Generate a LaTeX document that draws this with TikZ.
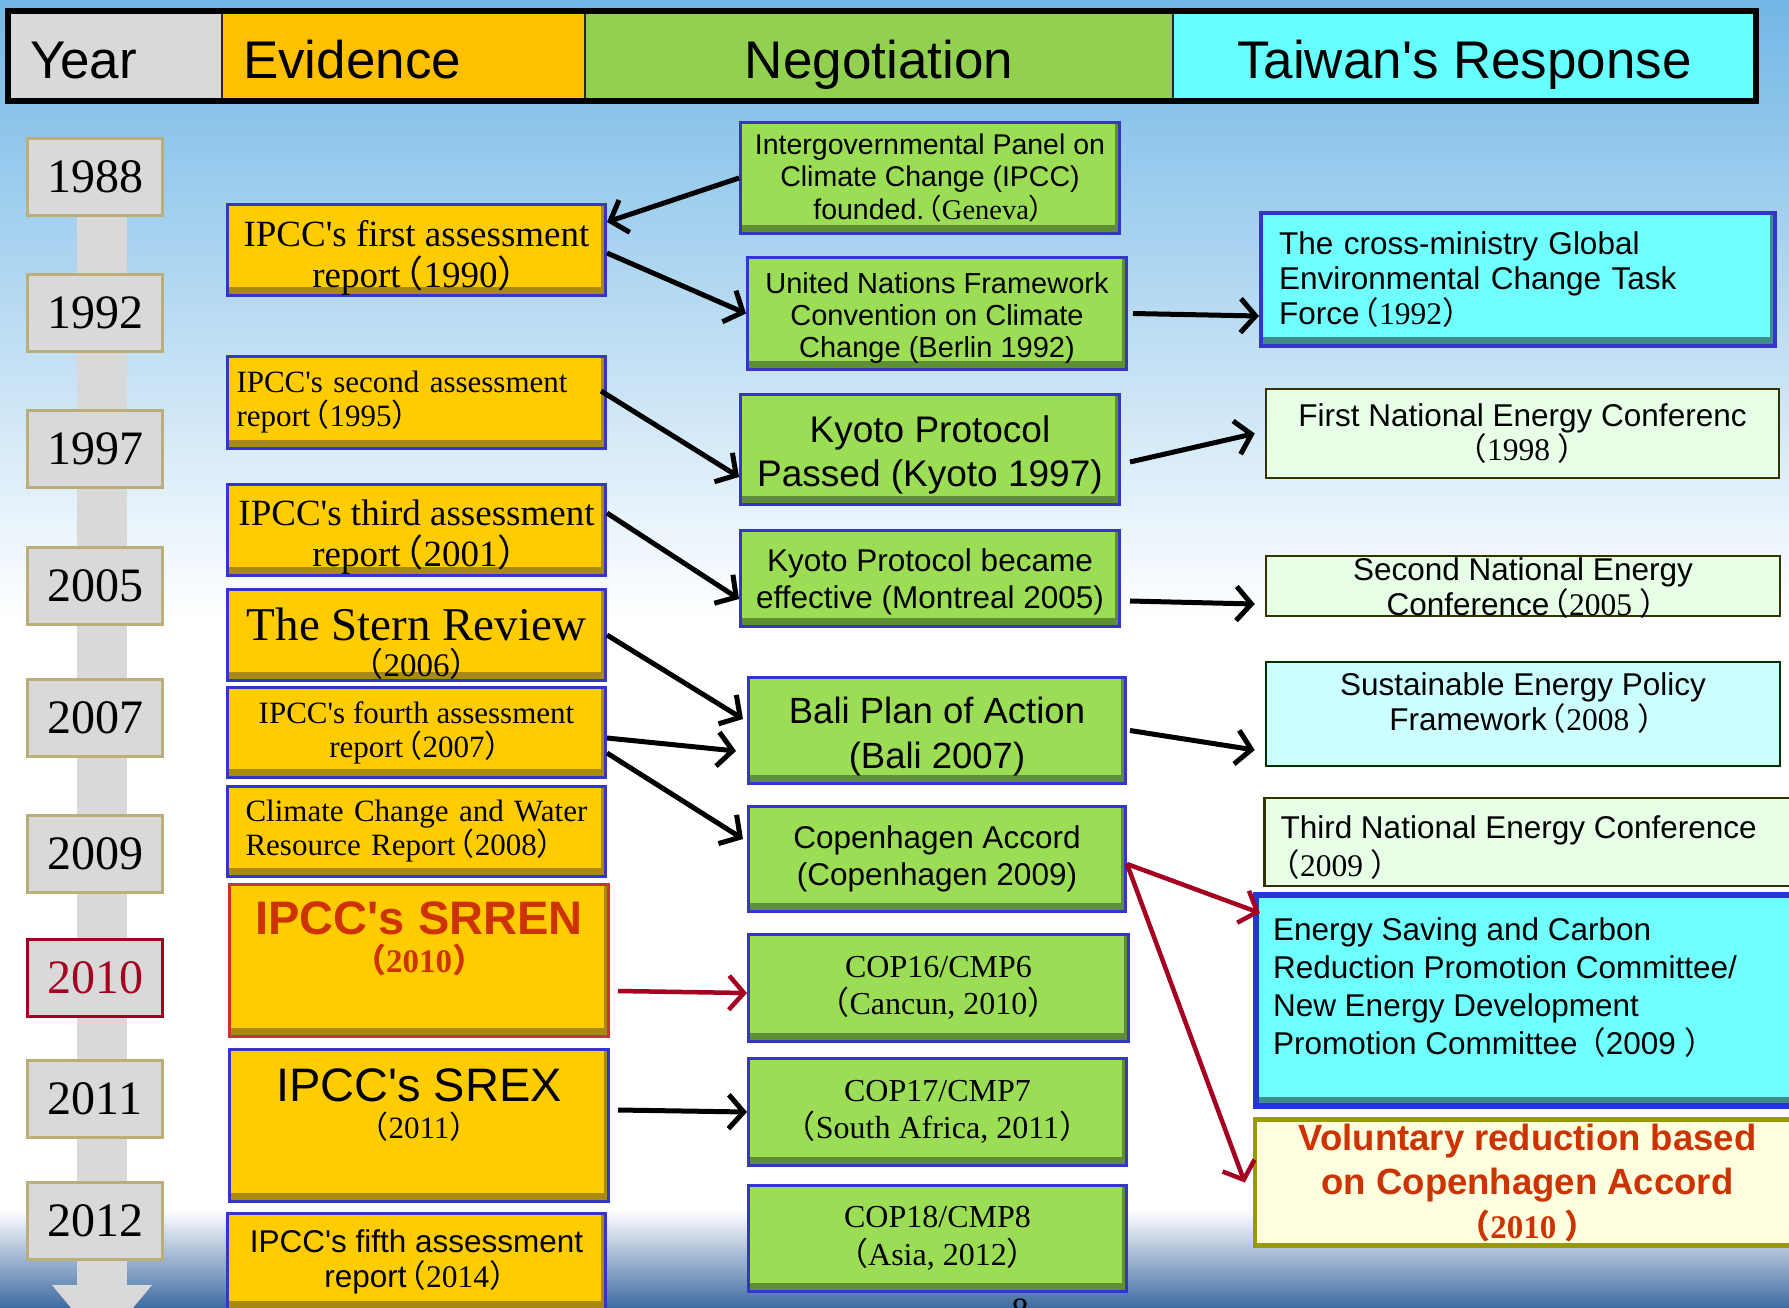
\documentclass[tikz,border=0pt]{standalone}
\usepackage{fontspec}
\setmainfont{Liberation Sans}
\newfontfamily\arl{Liberation Sans}
\newfontfamily\tnr{Liberation Serif}
\newfontfamily\cjk{Noto Sans CJK TC}
\usetikzlibrary{arrows.meta}

\definecolor{skyblue}{HTML}{72B7E6}
\definecolor{seamid}{HTML}{A9C1DD}
\definecolor{seablue}{HTML}{3F6DA3}
\definecolor{yeargray}{HTML}{D9D9D9}
\definecolor{yearline}{HTML}{BCAE78}
\definecolor{accred}{HTML}{A50021}
\definecolor{hdorange}{HTML}{FFC000}
\definecolor{hdgreen}{HTML}{92D050}
\definecolor{hdcyan}{HTML}{66FFFF}
\definecolor{evigold}{HTML}{FFCC00}
\definecolor{evidark}{HTML}{A88A10}
\definecolor{boxblue}{HTML}{3535C8}
\definecolor{deepblue}{HTML}{2238D0}
\definecolor{negreen}{HTML}{9BDD55}
\definecolor{nedark}{HTML}{5F8F35}
\definecolor{twcyan}{HTML}{70FFFF}
\definecolor{twdark}{HTML}{3F8C8C}
\definecolor{mint}{HTML}{E6FFE6}
\definecolor{darkolive}{HTML}{333300}
\definecolor{paleaqua}{HTML}{CCFFFF}
\definecolor{deepgreen}{HTML}{003300}
\definecolor{cream}{HTML}{FFFFE0}
\definecolor{mustard}{HTML}{999900}
\definecolor{rust}{HTML}{CC3300}
\definecolor{srrenred}{HTML}{CC3333}

% full-width brackets and a straight apostrophe
\newcommand{\fwl}{\makebox[0.62em][r]{\cjk （}}
\newcommand{\fwr}{\makebox[0.62em][l]{\cjk ）}}
\newcommand{\aps}{\textquotesingle}
% lines raised inside a box of fixed size
\newcommand{\stackc}[2]{\raisebox{#1}[0pt][0pt]{\vbox{\let\\\cr\halign{\hfil##\hfil\cr#2\crcr}}}}
\newcommand{\stackl}[3]{\makebox[#1][l]{\raisebox{#2}[0pt][0pt]{\vbox{\let\\\cr\halign{##\hfil\cr#3\crcr}}}}}

\tikzset{bevel/.style={path picture={
  \fill[#1] ([yshift=9pt]path picture bounding box.south west) rectangle (path picture bounding box.south east);
  \fill[#1] ([xshift=-5pt]path picture bounding box.north east) rectangle (path picture bounding box.south east);}}}
\tikzstyle{headcell} = [rectangle, minimum height=90pt, inner ysep=0pt, text height=44pt, text depth=0pt, font=\arl\fontsize{53}{58}\selectfont]
\tikzstyle{divider} = [line width=2pt, draw=black!85]
\tikzstyle{yearbox} = [rectangle, draw=yearline, line width=2.5pt, fill=yeargray, minimum width=135pt, minimum height=77pt, font=\tnr\fontsize{48}{50}\selectfont]
\tikzstyle{evidence} = [rectangle, draw=boxblue, line width=3pt, fill=evigold, bevel=evidark, align=center, inner xsep=4pt, font=\tnr\fontsize{37}{41}\selectfont]
\tikzstyle{negotiation} = [rectangle, draw=boxblue, line width=3pt, fill=negreen, bevel=nedark, align=center, font=\arl\fontsize{29}{32.5}\selectfont]
\tikzstyle{response} = [rectangle, draw=boxblue, line width=4pt, fill=twcyan, bevel=twdark, font=\arl\fontsize{31.5}{35}\selectfont]
\tikzstyle{conference} = [rectangle, draw=darkolive, line width=2.5pt, fill=mint, align=center, font=\arl\fontsize{31.5}{34}\selectfont]
\tikzstyle{policy} = [conference, draw=deepgreen, fill=paleaqua]
\tikzstyle{pledge} = [rectangle, draw=mustard, line width=4.5pt, fill=cream, align=center, text=rust, font=\arl\bfseries\fontsize{36.5}{44}\selectfont]
\tikzstyle{arrow} = [line width=5pt, -{Straight Barb[length=15pt,width=34pt]}]
\tikzstyle{redarrow} = [arrow, line width=4.5pt, draw=accred]

\begin{document}
\begin{tikzpicture}[x=1pt,y=-1pt]
\useasboundingbox (0,0) rectangle (1789,1307);
% backdrop
\shade[top color=skyblue, bottom color=white] (0,0) rectangle (1789,620);
\fill[white] (0,619) rectangle (1789,1211);
\shade[top color=white, middle color=seamid, bottom color=seablue] (0,1210) rectangle (1789,1307);

% header row
\node (hyear) [headcell, fill=yeargray, text width=170pt, inner xsep=22pt, align=left] at (115,56) {Year};
\node (hevid) [headcell, fill=hdorange, text width=321pt, inner xsep=21pt, align=left] at (403.5,56) {Evidence};
\node (hnego) [headcell, fill=hdgreen, minimum width=588pt] at (879,56) {Negotiation};
\node (htw) [headcell, fill=hdcyan, minimum width=583pt] at (1464.5,56) {Taiwan\aps s Response};
\draw [divider] (hyear.north east) -- (hyear.south east);
\draw [divider] (hevid.north east) -- (hevid.south east);
\draw [divider] (hnego.north east) -- (hnego.south east);
\draw [line width=6pt] (hyear.north west) rectangle (htw.south east);

% time line
\fill[yeargray] (77,150) rectangle (127,1286);
\fill[yeargray] (52,1285) -- (152,1285) -- (102,1345) -- cycle;
\node (y1988) [yearbox] at (95,177) {1988};
\node (y1992) [yearbox] at (95,313) {1992};
\node (y1997) [yearbox] at (95,449) {1997};
\node (y2005) [yearbox] at (95,586) {2005};
\node (y2007) [yearbox] at (95,718) {2007};
\node (y2009) [yearbox] at (95,854) {2009};
\node (y2010) [yearbox, draw=accred, text=accred] at (95,978) {2010};
\node (y2011) [yearbox] at (95,1099) {2011};
\node (y2012) [yearbox] at (95,1221) {2012};

% evidence
\node (e1) [evidence, minimum width=378pt, minimum height=91pt] at (416.5,250) {\stackc{-37pt}{IPCC\aps s first assessment\\report\fwl 1990\fwr}};
\node (e2) [evidence, align=left, text width=360pt, inner xsep=9pt, minimum height=92pt, font=\tnr\fontsize{31}{34}\selectfont] at (416.5,402.5) {IPCC\aps s second assessment\\report\fwl 1995\fwr};
\node (e3) [evidence, minimum width=378pt, minimum height=91pt] at (416.5,530) {\stackc{-36.5pt}{IPCC\aps s third assessment\\report\fwl 2001\fwr}};
\node (e4) [evidence, minimum width=378pt, minimum height=91pt, font=\tnr\fontsize{33}{36}\selectfont] at (416.5,635) {\stackc{-41pt}{{\fontsize{47}{36}\selectfont The Stern Review}\\\fwl 2006\fwr}};
\node (e5) [evidence, minimum width=378pt, minimum height=90pt, font=\tnr\fontsize{31}{34}\selectfont] at (416.5,732.5) {IPCC\aps s fourth assessment\\report\fwl 2007\fwr};
\node (e6) [evidence, align=left, text width=342pt, inner xsep=18pt, minimum height=90pt, font=\tnr\fontsize{31}{34}\selectfont] at (416.5,831.5) {Climate Change and Water\\Resource Report\fwl 2008\fwr};
\node (e7) [evidence, draw=srrenred, text=rust, minimum width=379pt, minimum height=152pt, font=\tnr\bfseries\fontsize{33}{38}\selectfont] at (419,960.5) {\stackc{-12pt}{{\arl\fontsize{47}{47}\selectfont IPCC\aps s SRREN}\\\fwl 2010\fwr}};
\node (e8) [evidence, minimum width=379pt, minimum height=152pt, font=\tnr\fontsize{31}{37}\selectfont] at (419,1125.5) {\stackc{-12.5pt}{{\arl\fontsize{47}{47}\selectfont IPCC\aps s SREX}\\\fwl 2011\fwr}};
\node (e9) [evidence, minimum width=378pt, minimum height=96pt, font=\arl\fontsize{31.5}{35}\selectfont] at (416.5,1261.5) {IPCC\aps s fifth assessment\\report\fwl{\tnr 2014}\fwr};

% negotiation
\node (n1) [negotiation, minimum width=379pt, minimum height=111pt, font=\arl\fontsize{28.5}{32.5}\selectfont] at (930,178) {Intergovernmental Panel on\\Climate Change (IPCC)\\founded.\fwl{\tnr Geneva}\fwr};
\node (n2) [negotiation, minimum width=379pt, minimum height=112pt, font=\arl\fontsize{29}{32}\selectfont] at (937,313.5) {\stackc{-43.5pt}{United Nations Framework\\Convention on Climate\\Change (Berlin 1992)}};
\node (n3) [negotiation, minimum width=379pt, minimum height=110pt, font=\arl\fontsize{37}{44.5}\selectfont] at (930,449.5) {\stackc{-37pt}{Kyoto Protocol\\Passed (Kyoto 1997)}};
\node (n4) [negotiation, minimum width=379pt, minimum height=96pt, font=\arl\fontsize{31.5}{37.5}\selectfont] at (930,578.5) {\stackc{-30pt}{Kyoto Protocol became\\effective (Montreal 2005)}};
\node (n5) [negotiation, minimum width=377pt, minimum height=106pt, font=\arl\fontsize{36.5}{44.5}\selectfont] at (937,730.5) {\stackc{-37.5pt}{Bali Plan of Action\\(Bali 2007)}};
\node (n6) [negotiation, minimum width=377pt, minimum height=105pt, font=\arl\fontsize{31.5}{37.5}\selectfont] at (937,859) {Copenhagen Accord\\(Copenhagen 2009)};
\node (n7) [negotiation, minimum width=380pt, minimum height=107pt, font=\tnr\fontsize{32}{37.5}\selectfont] at (938.5,988) {COP16/CMP6\\\fwl Cancun, 2010\fwr};
\node (n8) [negotiation, minimum width=378pt, minimum height=107pt, font=\tnr\fontsize{32}{37.5}\selectfont] at (937.5,1112) {COP17/CMP7\\\fwl South Africa, 2011\fwr};
\node (n9) [negotiation, minimum width=378pt, minimum height=106pt, font=\tnr\fontsize{32}{37.5}\selectfont] at (937.5,1238.5) {COP18/CMP8\\\fwl Asia, 2012\fwr};

% Taiwan's response
\node (t1) [response, align=left, text width=478pt, inner xsep=18pt, minimum height=133pt] at (1518,279.5) {The cross-ministry Global\\Environmental Change Task\\Force\fwl{\tnr 1992}\fwr};
\node (t2) [conference, minimum width=513pt, minimum height=89pt] at (1522.5,433.5) {First National Energy Conferenc\\\fwl{\tnr 1998 }\fwr};
\node (t3) [conference, minimum width=514pt, minimum height=60pt, font=\arl\fontsize{31.5}{28}\selectfont] at (1523,586) {\stackc{-29pt}{Second National Energy\\Conference\fwl{\tnr 2005 }\fwr}};
\node (t4) [policy, minimum width=514pt, minimum height=104pt, font=\arl\fontsize{31.5}{33}\selectfont] at (1523,714) {\stackc{-16pt}{Sustainable Energy Policy\\Framework\fwl{\tnr 2008 }\fwr}};
\node (t5) [conference, inner xsep=16pt, minimum height=88pt, font=\arl\fontsize{31.5}{37.5}\selectfont] at (1532,842) {\stackl{503pt}{-34pt}{Third National Energy Conference\\\fwl{\tnr 2009 }\fwr}};
\node (t6) [response, draw=deepblue, line width=6pt, inner xsep=17pt, minimum height=211pt, font=\arl\fontsize{31.5}{38}\selectfont] at (1528,1000.5) {\stackl{510pt}{-53.5pt}{Energy Saving and Carbon\\Reduction Promotion Committee/\\New Energy Development\\Promotion Committee \fwl 2009 \fwr}};
\node (t7) [pledge, minimum width=545pt, minimum height=126pt] at (1527.5,1182.5) {Voluntary reduction based\\on Copenhagen Accord\\{\tnr\fontsize{33}{44}\selectfont\fwl 2010 \fwr}};

\node (pgno) [font=\tnr\fontsize{34}{34}\selectfont] at (1020,1310) {8};

% links
\draw [arrow] (n1.west) -- ([yshift=28pt]e1.east);
\draw [arrow] ([yshift=-3pt]e1.east) -- (n2.west);
\draw [arrow] ([xshift=5pt]n2.east) -- ([yshift=-36.5pt]t1.west);
\draw [arrow] ([xshift=-6pt,yshift=11.5pt]e2.east) -- ([yshift=-27.5pt]n3.west);
\draw [arrow] ([xshift=9pt,yshift=-12.5pt]n3.east) -- ([xshift=-10pt]t2.west);
\draw [arrow] ([yshift=17pt]e3.east) -- ([yshift=-20.5pt]n4.west);
\draw [arrow] ([xshift=9pt,yshift=-22.5pt]n4.east) -- ([xshift=-10pt,yshift=-18pt]t3.west);
\draw [arrow] (e4.east) -- ([xshift=-4pt,yshift=11.5pt]n5.west);
\draw [arrow] ([yshift=-5.5pt]e5.east) -- ([xshift=-11pt,yshift=-20.5pt]n5.west);
\draw [arrow] ([yshift=-20.5pt]e5.east) -- ([xshift=-4pt,yshift=20pt]n6.west);
\draw [arrow] ([xshift=3pt]n5.east) -- ([xshift=-10pt,yshift=-36pt]t4.west);
\draw [redarrow] ([yshift=-5pt]n6.east) -- ([xshift=7pt,yshift=87.5pt]t6.west);
\draw [redarrow] ([yshift=-5pt]n6.east) -- ([xshift=-8pt]t7.west);
\draw [redarrow] ([xshift=8pt,yshift=-30.5pt]e7.east) -- ([yshift=-5pt]n7.west);
\draw [arrow] ([xshift=8pt,yshift=15.5pt]e8.east) -- (n8.west);
\end{tikzpicture}
\end{document}
